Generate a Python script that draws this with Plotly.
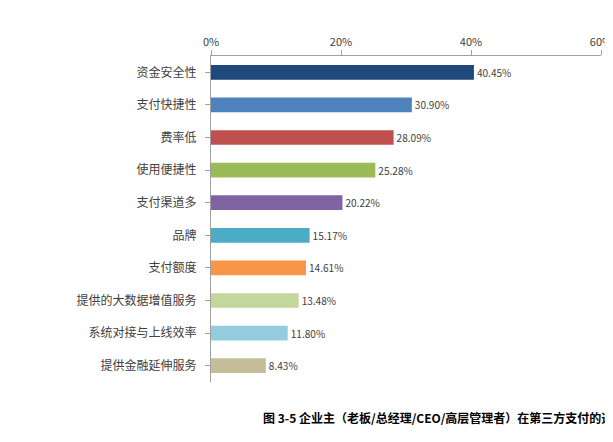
import plotly.graph_objects as go

categories = ["资金安全性","支付快捷性","费率低","使用便捷性","支付渠道多","品牌","支付额度","提供的大数据增值服务","系统对接与上线效率","提供金融延伸服务"]
values = [40.45,30.90,28.09,25.28,20.22,15.17,14.61,13.48,11.80,8.43]
colors = ["#1F497D","#4F81BD","#C0504D","#9BBB59","#8064A2","#4BACC6","#F79646","#C3D69B","#93CDDD","#C4BD97"]
ticks = [0,20,40,60]
tick_labels = ["0%","20%","40%","60%"]

fig = go.Figure(go.Bar(
    y=categories, x=values, orientation="h",
    marker=dict(color=colors, line=dict(width=0)),
    width=0.45,
    text=[f"{v:.2f}%" for v in values], textposition="outside",
    textfont=dict(size=11, color="#404040"), cliponaxis=False,
))
fig.update_layout(
    width=613, height=442, paper_bgcolor="white", plot_bgcolor="white",
    margin=dict(l=203, r=20, t=48, b=68, autoexpand=False), showlegend=False,
    font=dict(family="Noto Sans CJK SC", size=12, color="#404040"),
    xaxis=dict(side="top", range=[0,60], tickvals=ticks, ticktext=tick_labels,
               showgrid=False, showline=True, linecolor="#A0A0A0", ticks="outside",
               tickcolor="#A0A0A0", ticklen=5, zeroline=False, automargin=False,
               tickfont=dict(size=11)),
    yaxis=dict(autorange="reversed", showline=True, linecolor="#A0A0A0",
               ticks="outside", tickcolor="#A0A0A0", ticklen=5, automargin=False,
               ticklabelstandoff=6),
    annotations=[dict(text="<b>图 3-5 企业主（老板/总经理/CEO/高层管理者）在第三方支付的选择因素</b>↵",
                      xref="paper", yref="paper", x=0.64, y=-0.11, xanchor="center", yanchor="middle",
                      showarrow=False, font=dict(size=12, color="black", family="Noto Sans CJK SC"))],
)
fig.write_html("out.html")
